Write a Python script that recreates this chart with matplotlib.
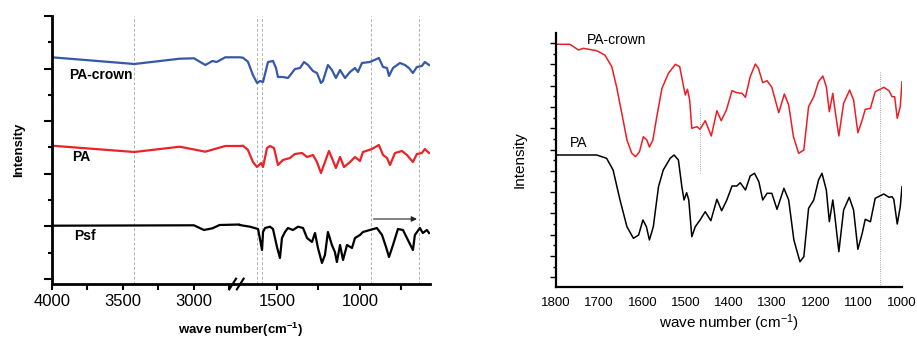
import numpy as np
import matplotlib
matplotlib.use("Agg")
import matplotlib.pyplot as plt
from matplotlib.ticker import FixedLocator, NullFormatter

plt.rcParams['font.family'] = ['Liberation Sans', 'DejaVu Sans']
plt.rcParams['mathtext.default'] = 'regular'

# ---- left panel: Psf / PA / PA-crown, broken wavenumber axis ----
wn_crown = [4000, 3420, 3100, 3000, 2920, 2870, 2840, 2780, 2680,
            1725, 1705, 1675, 1645, 1620, 1602, 1584, 1566, 1554, 1524, 1506,
            1494, 1464, 1434, 1410, 1392, 1361, 1337, 1313, 1283, 1259, 1235,
            1223, 1193, 1169, 1145, 1120, 1090, 1060, 1030, 1012, 988, 940,
            886, 861, 837, 825, 801, 759, 729, 705, 681, 657, 627, 609, 584]
int_crown = [226.7, 220, 225.3, 225.7, 219, 223, 222, 226.7, 226.7,
             226.7, 226.3, 222.3, 209, 201, 203, 202, 214, 222, 223, 216,
             207, 207, 206, 211, 215, 216, 222, 219, 213, 211, 201,
             203, 219, 214, 206, 214, 206, 212, 216, 212, 221, 222,
             226, 217, 216, 208, 216, 221, 219, 216, 211, 217, 218, 222, 219]

wn_pa = [4000, 3420, 3100, 2920, 2780, 2680,
         1725, 1705, 1675, 1645, 1620, 1596, 1584, 1560, 1542, 1518, 1494,
         1464, 1422, 1392, 1349, 1319, 1283, 1259, 1235, 1211, 1187, 1169,
         1145, 1120, 1096, 1060, 1030, 1000, 982, 928, 886, 861, 837, 819,
         789, 747, 717, 681, 657, 627, 609, 584]
int_pa = [138.3, 132, 137.3, 132.3, 138, 138,
          138, 138.3, 134, 122, 117, 121, 117, 136, 138, 136, 119,
          124, 126, 130, 131, 127, 129, 122, 111, 122, 133, 126,
          116, 127, 117, 122, 127, 123, 132, 135, 139, 129, 126, 119,
          131, 133, 129, 122, 130, 131, 135, 131]

wn_psf = [4000, 3000, 2930, 2870, 2820, 2680,
          1725, 1663, 1614, 1590, 1584, 1572, 1542, 1524, 1500, 1482, 1470,
          1452, 1434, 1404, 1373, 1343, 1319, 1289, 1271, 1253, 1229, 1211,
          1193, 1169, 1151, 1139, 1120, 1102, 1078, 1048, 1030, 1000, 982,
          940, 898, 867, 843, 825, 801, 771, 741, 717, 681, 669, 639, 621,
          597, 584]
int_psf = [58.3, 58.7, 54, 55.7, 59, 59.5,
           59, 57.3, 55, 34, 52, 56, 57.3, 55, 37, 26, 46,
           52, 56, 54, 57.3, 56, 46, 42, 51, 36, 21, 29,
           52, 39, 32, 22, 39, 24, 39, 36, 46, 49, 52,
           54, 56, 49, 37, 27, 39, 55, 54, 46, 34, 49, 56, 51,
           54, 51]

left_marks = [3420, 1620, 1590, 935, 645]
left_labels = [('PA-crown', 3880, 209), ('PA', 3860, 127), ('Psf', 3845, 48)]

# ---- right panel: PA / PA-crown, 1800-1000 ----
wn_r_crown = [1800, 1768, 1748, 1737, 1706, 1687, 1671, 1660, 1648, 1636,
              1625, 1616, 1607, 1598, 1590, 1584, 1576, 1567, 1555, 1540,
              1524, 1514, 1505, 1501, 1496, 1491, 1486, 1474, 1467, 1455,
              1441, 1428, 1418, 1406, 1393, 1382, 1370, 1362, 1351, 1339,
              1332, 1322, 1312, 1301, 1285, 1272, 1262, 1251, 1239, 1227,
              1216, 1204, 1193, 1183, 1175, 1168, 1160, 1156, 1146, 1135,
              1121, 1112, 1102, 1092, 1085, 1073, 1062, 1042, 1030, 1023,
              1017, 1011, 1004, 1000]
int_r_crown = [242.7, 242.7, 237, 238.7, 236.3, 232, 220.3, 200.3, 174, 147,
               134, 130.3, 135.3, 150.3, 147, 140, 147, 170.3, 198.7, 213.7,
               222.7, 220.3, 200.3, 192, 197.7, 187, 158.7, 160.3, 157.7, 166.3,
               151, 176.3, 166.3, 177, 196.3, 194.3, 193.7, 189.7, 210.3, 223,
               218.7, 204.3, 206.3, 199.7, 174.3, 193, 182, 150.3, 133.7, 137,
               180.3, 190.3, 205.3, 211, 200.3, 175.3, 193.7, 180.3, 151, 183.7,
               197, 187, 154.3, 167, 177.7, 178.7, 195.3, 199.7, 196.3, 190.3,
               190.3, 168.7, 180.3, 205.3]

wn_r_pa = [1800, 1706, 1683, 1668, 1652, 1636, 1621, 1609, 1599, 1591,
           1584, 1575, 1563, 1552, 1536, 1527, 1517, 1509, 1504, 1498,
           1493, 1486, 1478, 1467, 1455, 1442, 1428, 1417, 1405, 1393,
           1382, 1374, 1362, 1351, 1341, 1331, 1322, 1312, 1301, 1289,
           1273, 1262, 1250, 1236, 1227, 1216, 1204, 1193, 1185, 1175,
           1168, 1160, 1156, 1146, 1135, 1122, 1112, 1102, 1092, 1085,
           1073, 1062, 1042, 1030, 1023, 1019, 1011, 1004, 1000]
int_r_pa = [132, 132, 128.7, 117, 87, 60.3, 48.7, 52, 67, 60.3,
            47, 60.3, 100.3, 117, 128.7, 132, 127, 100.3, 87, 94.3,
            87, 50.3, 60.3, 67, 75.3, 66.3, 87.7, 76.3, 87, 101,
            101, 104.3, 97, 111, 113.7, 105.3, 87, 93.7, 93.7, 77.7,
            98.7, 87, 47, 25.3, 30.3, 78.7, 87, 107, 113.7, 97,
            65.3, 87, 73.7, 35.3, 77, 89.7, 77, 37.7, 53.7, 67.7,
            65.3, 88.7, 93, 89.7, 90.3, 87.7, 63, 80.3, 100.3]


# broken axis: 4000-2676 and 1723-578 on one continuous scale
# (increasing in wavenumber, the axis is then shown inverted)
def fwd(w):
    w = np.asarray(w, dtype=float)
    return -np.where(w >= 2676, (4000 - w) * 0.142, 188 + (1723 - w) * 0.166)


def inv(v):
    u = -np.asarray(v, dtype=float)
    return np.where(u <= 188, 4000 - u / 0.142, 1723 - (u - 188) / 0.166)


fig = plt.figure(figsize=(9.17, 3.38), dpi=100)
W, H = 917.0, 338.0
ax1 = fig.add_axes([52 / W, (H - 284) / H, 378 / W, 268 / H])
ax2 = fig.add_axes([556 / W, (H - 287) / H, 346 / W, 254 / H])

ax1.set_xscale('function', functions=(fwd, inv))
for w in left_marks:
    ax1.axvline(w, color='#b0b0b0', lw=0.7, ls=(0, (3, 2)), zorder=0)
ax1.plot(wn_crown, int_crown, color='#3757a8', lw=1.6)
ax1.plot(wn_pa, int_pa, color='#ec2227', lw=1.6)
ax1.plot(wn_psf, int_psf, color='black', lw=1.6)
for txt, xw, yv in left_labels:
    ax1.text(xw, yv, txt, fontsize=10, fontweight='bold', va='center',
             ha='left')
ax1.annotate('', xy=(640, 65), xytext=(935, 65),
             arrowprops=dict(arrowstyle='-|>', color='#222222', lw=0.8,
                             mutation_scale=8))
ax1.set_xlim(4000, 578)
ax1.set_ylim(0, 268)
ax1.xaxis.set_major_locator(FixedLocator([4000, 3500, 3000, 1500, 1000]))
ax1.xaxis.set_minor_locator(FixedLocator([3750, 3250, 2750, 1250, 750]))
ax1.xaxis.set_minor_formatter(NullFormatter())
ax1.set_xticklabels(['4000', '3500', '3000', '1500', '1000'])
ax1.set_yticks(np.linspace(5, 268, 6))
ax1.set_yticks(np.linspace(31.3, 241.7, 5), minor=True)
ax1.set_yticklabels([])
ax1.tick_params(axis='x', which='major', direction='out', length=4,
                width=1.5, labelsize=12, pad=3)
ax1.tick_params(axis='x', which='minor', direction='out', length=4, width=1.5)
ax1.tick_params(axis='y', which='major', direction='out', length=6, width=1.5)
ax1.tick_params(axis='y', which='minor', direction='out', length=3, width=1.5)
for s in ['top', 'right']:
    ax1.spines[s].set_visible(False)
for s in ['left', 'bottom']:
    ax1.spines[s].set_linewidth(2)
ax1.set_xlabel(r'wave number(cm$^{-1}$)', fontsize=9.5, fontweight='bold',
               labelpad=9)
ax1.set_ylabel('Intensity', fontsize=9.5, fontweight='bold', labelpad=10)
# axis break marks
for d in (-0.012, 0.008):
    ax1.plot([0.49 + d - 0.009, 0.49 + d + 0.009], [-0.02, 0.02],
             transform=ax1.transAxes, color='black', lw=1.5, clip_on=False)

# right panel
ax2.plot(wn_r_crown, int_r_crown, color='#ee1c25', lw=1.1)
ax2.plot(wn_r_pa, int_r_pa, color='black', lw=1.1)
ax2.vlines([1468], 114, 180, color='#888888', lw=0.6, ls=':')
ax2.vlines([1052], 0, 215, color='#888888', lw=0.6, ls=':')
ax2.text(1729, 247, 'PA-crown', fontsize=10, va='center', ha='left')
ax2.text(1768, 144, 'PA', fontsize=10, va='center', ha='left')
ax2.set_xlim(1800, 1000)
ax2.set_ylim(0, 254)
ax2.set_xticks(np.arange(1800, 999, -100))
ax2.set_yticks(9.7 + 21.3 * np.arange(12))
ax2.set_yticks(20.35 + 21.3 * np.arange(11), minor=True)
ax2.set_yticklabels([])
ax2.tick_params(axis='x', length=0, labelsize=9.5, pad=7)
ax2.tick_params(axis='y', which='major', direction='out', length=4, width=1)
ax2.tick_params(axis='y', which='minor', direction='out', length=2.5, width=1)
for s in ['top', 'right']:
    ax2.spines[s].set_visible(False)
for s in ['left', 'bottom']:
    ax2.spines[s].set_linewidth(1.6)
ax2.set_xlabel(r'wave number (cm$^{-1}$)', fontsize=11, labelpad=3)
ax2.set_ylabel('Intensity', fontsize=11, labelpad=14)

fig.savefig('out.png', dpi=100)
